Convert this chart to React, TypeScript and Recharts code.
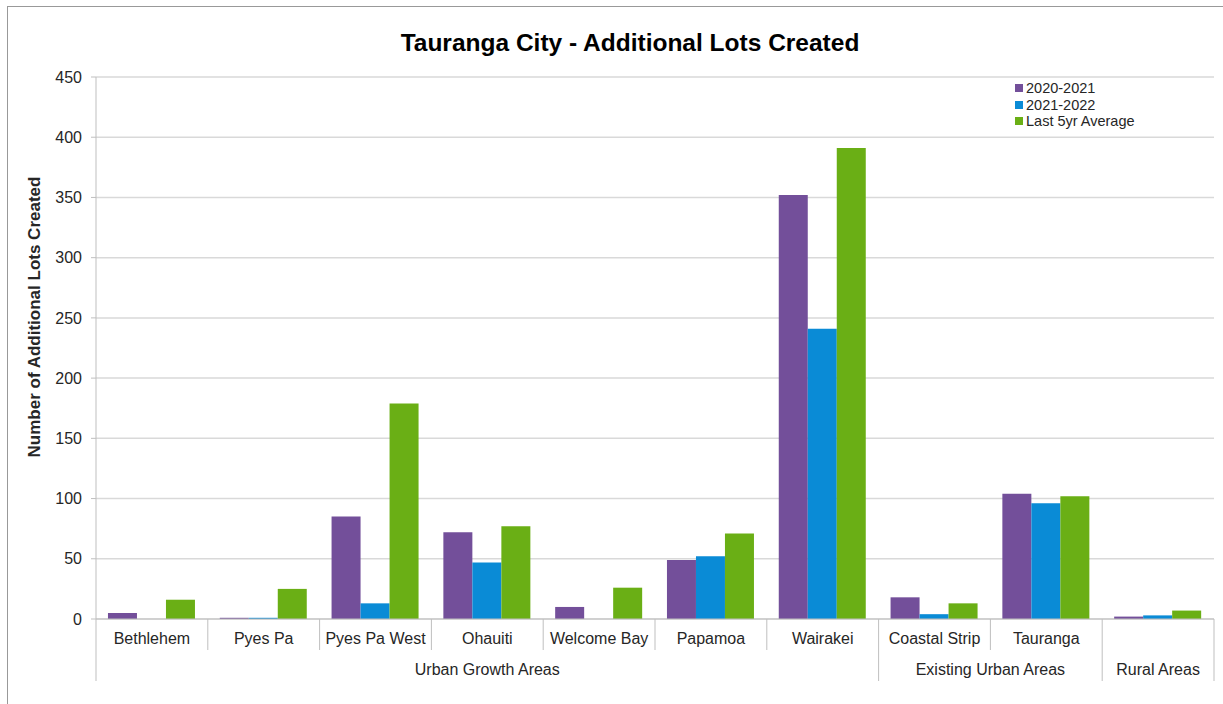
import React from "react"
import {
  BarChart,
  Bar,
  XAxis,
  YAxis,
  CartesianGrid,
  Legend
} from "recharts"

// chart values
const categories = [
  "Bethlehem",
  "Pyes Pa",
  "Pyes Pa West",
  "Ohauiti",
  "Welcome Bay",
  "Papamoa",
  "Wairakei",
  "Coastal Strip",
  "Tauranga",
  ""
]
const groups = [
  "Urban Growth Areas",
  "Urban Growth Areas",
  "Urban Growth Areas",
  "Urban Growth Areas",
  "Urban Growth Areas",
  "Urban Growth Areas",
  "Urban Growth Areas",
  "Existing Urban Areas",
  "Existing Urban Areas",
  "Rural Areas"
]
const lots2020_2021 = [5, 1, 85, 72, 10, 49, 352, 18, 104, 2]
const lots2021_2022 = [0, 1, 13, 47, 0, 52, 241, 4, 96, 3]
const last5yrAverage = [16, 25, 179, 77, 26, 71, 391, 13, 102, 7]
const yTicks = [0, 50, 100, 150, 200, 250, 300, 350, 400, 450]

const data = categories.map((area, i) => ({
  area,
  group: groups[i],
  y2021: lots2020_2021[i],
  y2022: lots2021_2022[i],
  avg: last5yrAverage[i]
}))

const FONT = '"Liberation Sans", Arial, sans-serif'
const AXIS = "#bfbfbf"
const TEXT = "#262626"

function CategoryTick(props: any) {
  const { x, y, payload } = props
  const i: number = props.index ?? payload.index
  const half: number = payload.offset || 0
  const left = x - half
  const right = x + half
  const startsGroup = i === 0 || groups[i - 1] !== groups[i]
  const isLast = i === categories.length - 1

  let groupLabel = null
  if (startsGroup) {
    let n = 0
    while (i + n < groups.length && groups[i + n] === groups[i]) n++
    groupLabel = (
      <text
        x={left + n * half}
        y={y + 56}
        textAnchor="middle"
        fontSize={16}
        fill={TEXT}
        fontFamily={FONT}
      >
        {groups[i]}
      </text>
    )
  }

  return (
    <g>
      <line x1={left} y1={y} x2={left} y2={y + (startsGroup ? 62 : 31)} stroke={AXIS} />
      {isLast && <line x1={right} y1={y} x2={right} y2={y + 62} stroke={AXIS} />}
      {categories[i] && (
        <text x={x} y={y + 25} textAnchor="middle" fontSize={16} fill={TEXT} fontFamily={FONT}>
          {categories[i]}
        </text>
      )}
      {groupLabel}
    </g>
  )
}

function LegendBox({ payload }: any) {
  return (
    <div style={{ fontFamily: FONT, fontSize: 14.5, color: TEXT, lineHeight: "16.5px" }}>
      {(payload || []).map((p: any) => (
        <div key={p.value} style={{ display: "flex", alignItems: "center" }}>
          <span style={{ width: 8, height: 8, background: p.color, marginRight: 3 }} />
          {p.value}
        </div>
      ))}
    </div>
  )
}

function YLabel({ viewBox }: any) {
  const cy = viewBox.y + viewBox.height / 2 - 31
  const cx = 40
  return (
    <text
      x={cx}
      y={cy}
      transform={`rotate(-90, ${cx}, ${cy})`}
      textAnchor="middle"
      fontSize={17}
      fontWeight="bold"
      fill={TEXT}
      fontFamily={FONT}
    >
      Number of Additional Lots Created
    </text>
  )
}

export default function App() {
  return (
    <div
      style={{
        position: "absolute",
        left: 0,
        top: 0,
        width: 1223,
        height: 704,
        background: "#fff",
        overflow: "hidden",
        fontFamily: FONT
      }}
    >
      <div
        style={{
          position: "absolute",
          left: 7,
          top: 6,
          width: 1230,
          height: 720,
          borderTop: "1px solid #999",
          borderLeft: "1px solid #999"
        }}
      />
      <div
        style={{
          position: "absolute",
          left: 630,
          top: 29,
          transform: "translateX(-50%)",
          whiteSpace: "nowrap",
          fontSize: 24.5,
          fontWeight: "bold",
          color: "#000"
        }}
      >
        Tauranga City - Additional Lots Created
      </div>
      <BarChart
        width={1223}
        height={704}
        data={data}
        margin={{ top: 77, right: 9, left: 0, bottom: 0 }}
        barCategoryGap="10.7%"
        barGap={0}
        style={{ position: "absolute", left: 0, top: 0 }}
      >
        <CartesianGrid vertical={false} stroke="#d9d9d9" strokeWidth={1.5} />
        <XAxis
          dataKey="area"
          height={85}
          interval={0}
          tickSize={0}
          tickMargin={0}
          tickLine={false}
          axisLine={{ stroke: AXIS }}
          tick={<CategoryTick />}
        />
        <YAxis
          width={96}
          domain={[0, 450]}
          ticks={yTicks}
          interval={0}
          tickSize={5}
          tickMargin={9}
          axisLine={{ stroke: AXIS }}
          tickLine={{ stroke: AXIS }}
          tick={{ fill: TEXT, fontSize: 16, fontFamily: FONT }}
          label={{ content: <YLabel /> }}
        />
        <Legend
          layout="vertical"
          verticalAlign="middle"
          align="center"
          content={<LegendBox />}
          wrapperStyle={{ position: "absolute", left: 1015, top: 80, width: 160 }}
        />
        <Bar dataKey="y2021" name="2020-2021" fill="#734F9A" isAnimationActive={false} />
        <Bar dataKey="y2022" name="2021-2022" fill="#0A8BD6" isAnimationActive={false} />
        <Bar dataKey="avg" name="Last 5yr Average" fill="#6AAF15" isAnimationActive={false} />
      </BarChart>
    </div>
  )
}
